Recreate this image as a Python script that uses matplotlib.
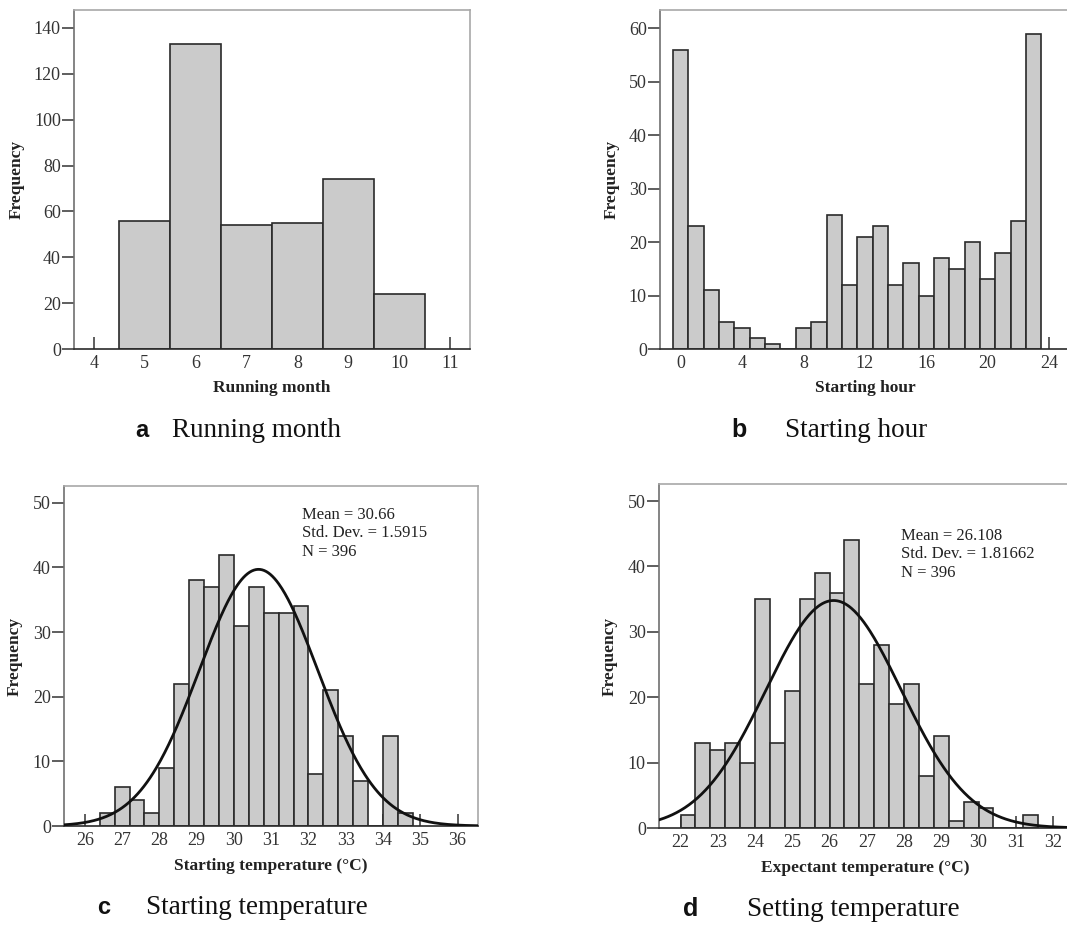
import numpy as np
import matplotlib
matplotlib.use("Agg")
import matplotlib.pyplot as plt

# data
month_values = [5, 6, 7, 8, 9, 10]
month_counts = [56, 133, 54, 55, 74, 24]

hour_values = list(range(24))
hour_counts = [56, 23, 11, 5, 4, 2, 1, 0, 4, 5, 25, 12,
               21, 23, 12, 16, 10, 17, 15, 20, 13, 18, 24, 59]

start_bin_first = 26.4
start_counts = [2, 6, 4, 2, 9, 22, 38, 37, 42, 31, 37,
                33, 33, 34, 8, 21, 14, 7, 0, 14, 2]
start_mean, start_sd, start_n = 30.66, 1.5915, 396

set_bin_first = 22.0
set_counts = [2, 13, 12, 13, 10, 35, 13, 21, 35, 39, 36, 44,
              22, 28, 19, 22, 8, 14, 1, 4, 3, 0, 0, 2]
set_mean, set_sd, set_n = 26.108, 1.81662, 396
bin_width = 0.4

W, H = 1067, 930
SERIF = "Liberation Serif"
SANS = "Liberation Sans"
BAR_FACE = "#cbcbcb"
BAR_EDGE = "#2a2a2a"

fig = plt.figure(figsize=(W / 100, H / 100), dpi=100)


def make_axes(left, right, top, bottom):
    return fig.add_axes([left / W, 1 - bottom / H, (right - left) / W, (bottom - top) / H])


def style_axes(ax, xlim, ylim, xticks, yticks, xlabel, ylab_off, xlab_off):
    ax.set_xlim(*xlim)
    ax.set_ylim(*ylim)
    ax.set_xticks(xticks)
    ax.set_yticks(yticks)
    ax.set_axisbelow(True)
    ax.tick_params(axis="y", direction="out", length=8.5, width=1.1, color="#333333",
                   labelsize=13, labelcolor="#333333", pad=1)
    ax.tick_params(axis="x", direction="in", length=8.5, width=1.1, color="#333333",
                   labelsize=13, labelcolor="#333333", pad=4)
    for lab in ax.get_xticklabels() + ax.get_yticklabels():
        lab.set_family(SERIF)
    ax.spines["top"].set_color("#a8a8a8")
    ax.spines["right"].set_color("#a8a8a8")
    ax.spines["left"].set_color("#707070")
    ax.spines["bottom"].set_color("#2a2a2a")
    for s in ax.spines.values():
        s.set_linewidth(1.2)
    h_px = ax.get_position().height * H
    w_px = ax.get_position().width * W
    ax.set_ylabel("Frequency", family=SERIF, fontweight="bold", fontsize=12.5, color="#222222")
    ax.yaxis.set_label_coords(ylab_off / w_px, 0.5)
    ax.yaxis.label.set_verticalalignment("center")
    ax.set_xlabel(xlabel, family=SERIF, fontweight="bold", fontsize=12.5, color="#222222")
    ax.xaxis.set_label_coords(0.5, -xlab_off / h_px)
    ax.xaxis.label.set_verticalalignment("center")


def caption(letter, text, x_letter, x_text, y_base, lsize):
    fig.text(x_letter / W, 1 - y_base / H, letter, family=SANS, fontweight="bold",
             fontsize=lsize, va="baseline", ha="left", color="#111111")
    fig.text(x_text / W, 1 - y_base / H, text, family=SERIF, fontsize=19.5,
             va="baseline", ha="left", color="#111111")


# a  running month
ax_a = make_axes(74, 470, 10, 349)
ax_a.bar(month_values, month_counts, width=1.0, color=BAR_FACE, edgecolor=BAR_EDGE, linewidth=1.2)
style_axes(ax_a, (3.61, 11.39), (0, 147.8), range(4, 12), range(0, 141, 20),
           "Running month", -57, 39)

# b  starting hour
ax_b = make_axes(660, 1071, 10, 349)
ax_b.bar(hour_values, hour_counts, width=1.0, color=BAR_FACE, edgecolor=BAR_EDGE, linewidth=1.2)
style_axes(ax_b, (-1.35, 25.43), (0, 63.4), range(0, 25, 4), range(0, 61, 10),
           "Starting hour", -48, 39)


def temp_panel(ax, first, counts, mean, sd, n, xlim, xticks, xlabel, txt_pos):
    edges = first + bin_width * np.arange(len(counts) + 1)
    ax.hist(edges[:-1], bins=edges, weights=counts, color=BAR_FACE,
            edgecolor=BAR_EDGE, linewidth=1.2)
    xs = np.linspace(xlim[0], xlim[1], 400)
    ys = n * bin_width * np.exp(-0.5 * ((xs - mean) / sd) ** 2) / (sd * np.sqrt(2 * np.pi))
    ax.plot(xs, ys, color="#111111", linewidth=2.0, zorder=3)
    style_axes(ax, xlim, (0, 52.6), xticks, range(0, 51, 10), xlabel, -49, 40)
    ax.text(txt_pos[0], txt_pos[1],
            f"Mean = {mean}\nStd. Dev. = {sd}\nN = {n}",
            transform=ax.transAxes, family=SERIF, fontsize=12, va="top", ha="left",
            color="#222222", linespacing=1.2)


ax_c = make_axes(64, 478, 486, 826)
temp_panel(ax_c, start_bin_first, start_counts, start_mean, start_sd, start_n,
           (25.44, 36.55), range(26, 37), "Starting temperature (\u00b0C)", (0.574, 0.938))

ax_d = make_axes(659, 1072, 484, 828)
temp_panel(ax_d, set_bin_first, set_counts, set_mean, set_sd, set_n,
           (21.42, 32.51), range(22, 33), "Expectant temperature (\u00b0C)", (0.587, 0.872))

caption("a", "Running month", 135, 172, 437, 17)
caption("b", "Starting hour", 731, 785, 437, 18)
caption("c", "Starting temperature", 97, 146, 914, 17)
caption("d", "Setting temperature", 683, 747, 916, 18)

fig.savefig("out.png", dpi=100)
